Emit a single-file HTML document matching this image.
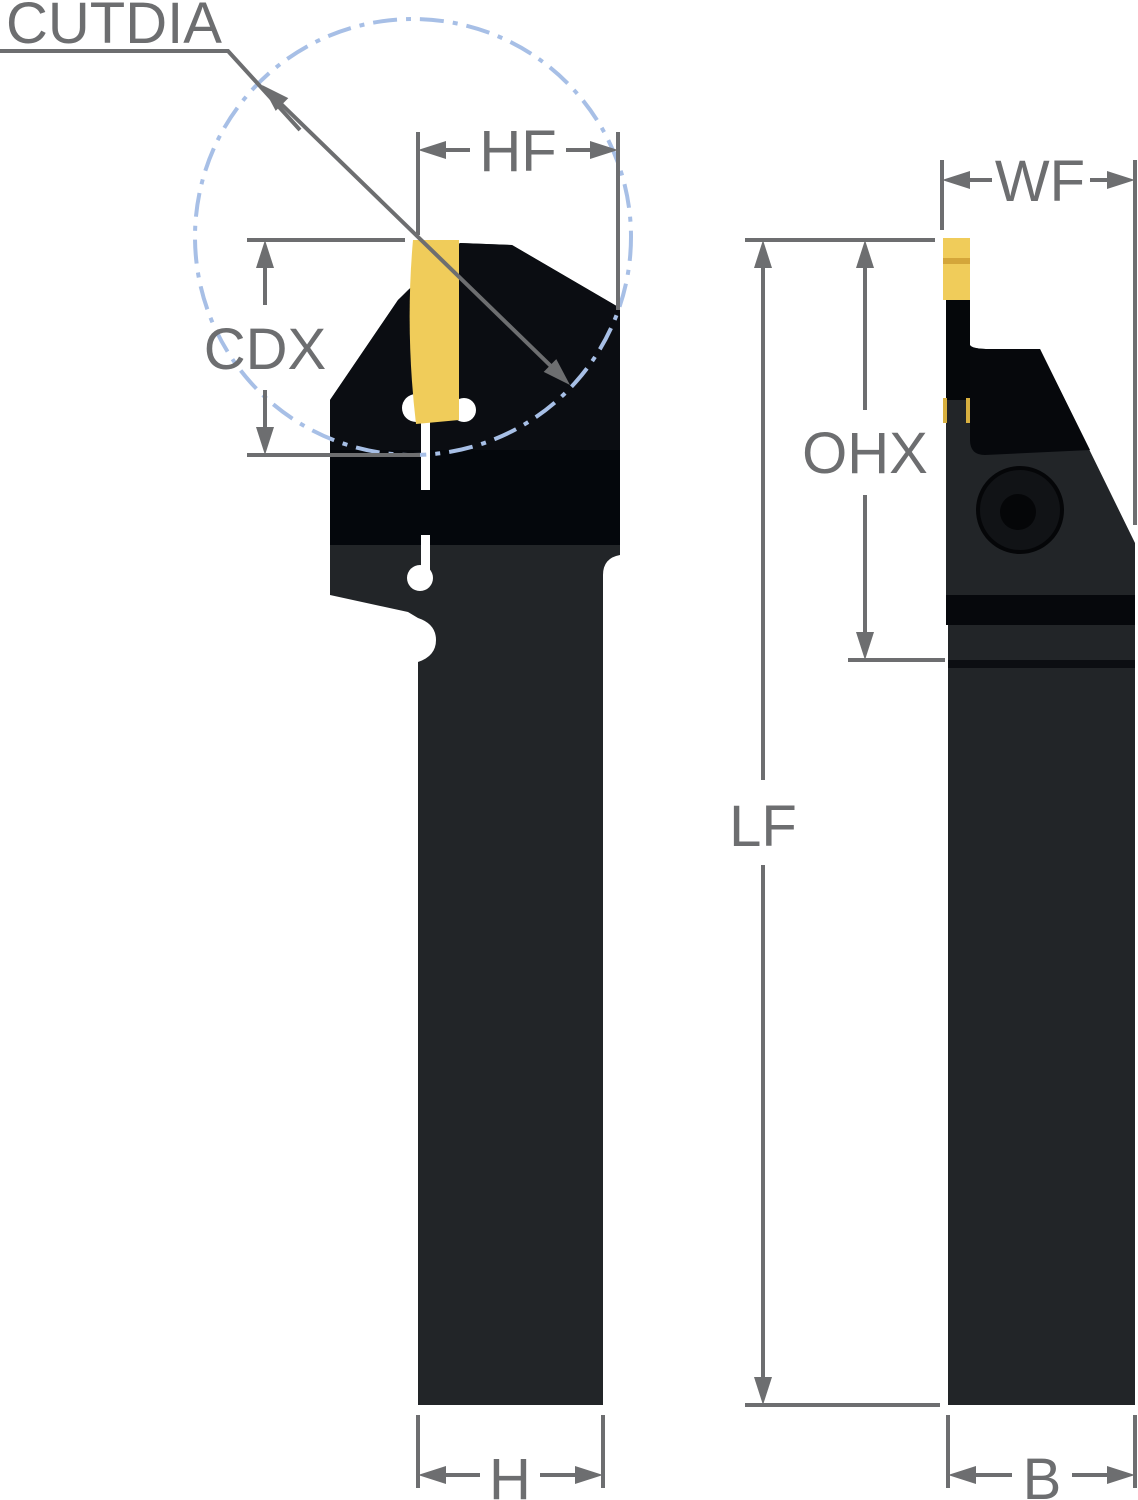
<!DOCTYPE html>
<html><head><meta charset="utf-8"><style>
html,body{margin:0;padding:0;background:#fff;}
svg{display:block;}
text{font-family:"Liberation Sans",sans-serif;fill:#6d6e70;font-size:58px;}
line,polyline{stroke:#6d6e70;stroke-width:4;fill:none;}
polygon.ar{fill:#6d6e70;}
</style></head><body>
<svg width="1138" height="1500" viewBox="0 0 1138 1500" xmlns="http://www.w3.org/2000/svg">

<!-- LEFT TOOL -->
<path d="M398,300 L408,290 L460,243 L512,245 L620,308 L620,555 Q603,558 603,575 L603,1405 L418,1405 L418,662 Q436,656 436,640 Q436,624 418,618 L408,612 L330,595 L330,400 Z" fill="#222528"/>
<path d="M398,300 L460,243 L512,245 L620,308 L620,545 L330,545 L330,400 Z" fill="#0b0d12"/>
<path d="M330,450 L620,450 L620,545 L330,545 Z" fill="#04070c"/>
<rect x="421" y="418" width="9" height="72" fill="#fff"/>
<rect x="421" y="535" width="9" height="40" fill="#fff"/>
<circle cx="420" cy="578" r="13" fill="#fff"/>
<circle cx="416" cy="408" r="14" fill="#fff"/>
<circle cx="464" cy="410" r="12" fill="#fff"/>
<path d="M413,240 L459,240 L459,420 L416,424 Q405,330 413,240 Z" fill="#f0cc5a"/>

<circle cx="413" cy="237" r="218" fill="none" stroke="#a7bfe6" stroke-width="4" stroke-dasharray="24,9,5,9"/>

<!-- CUTDIA -->
<text x="6" y="43">CUTDIA</text>
<polyline points="0,51 228,51 300,130"/>
<line x1="275" y1="98" x2="557" y2="372"/>
<polygon class="ar" points="262,85 275.7,110.9 288.3,98.1"/>
<polygon class="ar" points="570,385 543.7,371.9 556.3,359.1"/>

<!-- HF -->
<line x1="418" y1="132" x2="418" y2="235"/>
<line x1="618" y1="132" x2="618" y2="310"/>
<line x1="440" y1="150" x2="470" y2="150"/>
<line x1="566" y1="150" x2="596" y2="150"/>
<polygon class="ar" points="418,150 446,141 446,159"/>
<polygon class="ar" points="618,150 590,141 590,159"/>
<text x="518" y="171" text-anchor="middle">HF</text>

<!-- CDX -->
<line x1="247" y1="240" x2="405" y2="240"/>
<line x1="247" y1="455" x2="420" y2="455"/>
<line x1="265" y1="260" x2="265" y2="305"/>
<line x1="265" y1="390" x2="265" y2="435"/>
<polygon class="ar" points="265,240 256,268 274,268"/>
<polygon class="ar" points="265,455 256,427 274,427"/>
<text x="265" y="369" text-anchor="middle">CDX</text>

<!-- H -->
<line x1="418" y1="1415" x2="418" y2="1488"/>
<line x1="603" y1="1415" x2="603" y2="1488"/>
<line x1="440" y1="1475" x2="480" y2="1475"/>
<line x1="540" y1="1475" x2="580" y2="1475"/>
<polygon class="ar" points="418,1475 446,1466 446,1484"/>
<polygon class="ar" points="603,1475 575,1466 575,1484"/>
<text x="510" y="1499" text-anchor="middle">H</text>

<!-- RIGHT TOOL -->
<path d="M970,345 Q972,349 990,349 L1040,349 L1135,543 L1135,1405 L948,1405 L948,625 L946,620 L946,395 L970,395 Z" fill="#222528"/>
<path d="M970,345 Q972,349 990,349 L1040,349 L1090,450 L985,455 Q970,455 970,440 Z" fill="#06080c"/>
<rect x="946" y="300" width="24" height="100" fill="#05070a"/>
<rect x="946" y="595" width="189" height="30" fill="#06080c"/>
<rect x="948" y="660" width="187" height="8" fill="#0c0e12"/>
<circle cx="1020" cy="510" r="42" fill="#111316" stroke="#050608" stroke-width="4"/>
<circle cx="1018" cy="512" r="18" fill="#050608"/>
<rect x="943" y="238" width="27" height="62" fill="#f0cc5a"/>
<rect x="943" y="258" width="27" height="6" fill="#d4a63a"/>
<rect x="943" y="398" width="4" height="25" fill="#d8b040"/>
<rect x="966" y="398" width="4" height="25" fill="#d8b040"/>

<!-- WF -->
<line x1="942" y1="160" x2="942" y2="230"/>
<line x1="1135" y1="160" x2="1135" y2="525"/>
<line x1="965" y1="180" x2="992" y2="180"/>
<line x1="1090" y1="180" x2="1112" y2="180"/>
<polygon class="ar" points="942,180 970,171 970,189"/>
<polygon class="ar" points="1135,180 1107,171 1107,189"/>
<text x="1040" y="201" text-anchor="middle">WF</text>

<!-- LF -->
<line x1="745" y1="240" x2="935" y2="240"/>
<line x1="745" y1="1405" x2="940" y2="1405"/>
<line x1="763" y1="260" x2="763" y2="780"/>
<line x1="763" y1="865" x2="763" y2="1385"/>
<polygon class="ar" points="763,240 754,268 772,268"/>
<polygon class="ar" points="763,1405 754,1377 772,1377"/>
<text x="763" y="846" text-anchor="middle">LF</text>

<!-- OHX -->
<line x1="848" y1="660" x2="945" y2="660"/>
<line x1="865" y1="260" x2="865" y2="410"/>
<line x1="865" y1="495" x2="865" y2="640"/>
<polygon class="ar" points="865,240 856,268 874,268"/>
<polygon class="ar" points="865,660 856,632 874,632"/>
<text x="865" y="473" text-anchor="middle">OHX</text>

<!-- B -->
<line x1="948" y1="1415" x2="948" y2="1488"/>
<line x1="1135" y1="1415" x2="1135" y2="1488"/>
<line x1="970" y1="1475" x2="1012" y2="1475"/>
<line x1="1072" y1="1475" x2="1112" y2="1475"/>
<polygon class="ar" points="948,1475 976,1466 976,1484"/>
<polygon class="ar" points="1135,1475 1107,1466 1107,1484"/>
<text x="1042" y="1499" text-anchor="middle">B</text>
</svg>
</body></html>
